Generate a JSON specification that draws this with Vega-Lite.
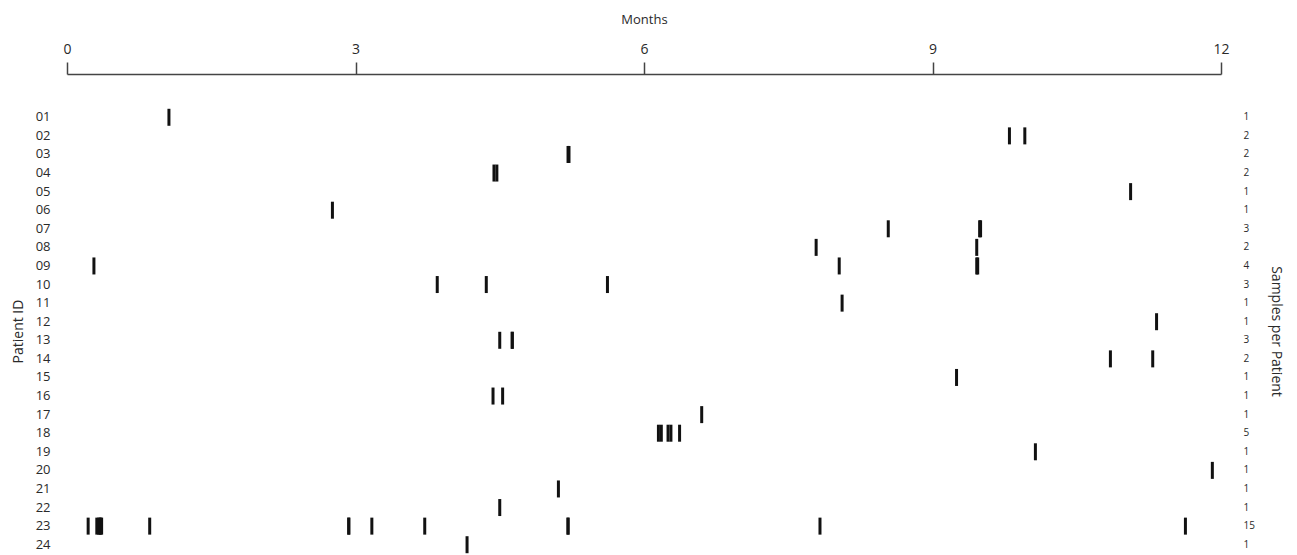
{
  "$schema": "https://vega.github.io/schema/vega-lite/v6.json",
  "autosize": {"type": "none"},
  "padding": {"left": 67, "top": 108, "right": 76, "bottom": 1},
  "width": 1154,
  "height": 446,
  "config": {
    "view": {"stroke": null},
    "font": "Open Sans",
    "axis": {"grid": false, "labelColor": "#2a2a2a", "titleColor": "#2a2a2a", "titleFontWeight": "normal", "domainColor": "#444", "tickColor": "#444"}
  },
  "datasets": {
    "samples": [
      {"pid": "01", "m": 1.06},
      {"pid": "02", "m": 9.80}, {"pid": "02", "m": 9.96},
      {"pid": "03", "m": 5.21}, {"pid": "03", "m": 5.22},
      {"pid": "04", "m": 4.44}, {"pid": "04", "m": 4.47},
      {"pid": "05", "m": 11.06},
      {"pid": "06", "m": 2.76},
      {"pid": "07", "m": 8.54}, {"pid": "07", "m": 9.49}, {"pid": "07", "m": 9.50},
      {"pid": "08", "m": 7.79}, {"pid": "08", "m": 9.46},
      {"pid": "09", "m": 0.28}, {"pid": "09", "m": 8.03}, {"pid": "09", "m": 9.46}, {"pid": "09", "m": 9.47},
      {"pid": "10", "m": 3.85}, {"pid": "10", "m": 4.36}, {"pid": "10", "m": 5.62},
      {"pid": "11", "m": 8.06},
      {"pid": "12", "m": 11.33},
      {"pid": "13", "m": 4.50}, {"pid": "13", "m": 4.63}, {"pid": "13", "m": 4.63},
      {"pid": "14", "m": 10.85}, {"pid": "14", "m": 11.29},
      {"pid": "15", "m": 9.25},
      {"pid": "16", "m": 4.43}, {"pid": "16", "m": 4.53},
      {"pid": "17", "m": 6.60},
      {"pid": "18", "m": 6.15}, {"pid": "18", "m": 6.18}, {"pid": "18", "m": 6.25}, {"pid": "18", "m": 6.28}, {"pid": "18", "m": 6.37},
      {"pid": "19", "m": 10.07},
      {"pid": "20", "m": 11.91},
      {"pid": "21", "m": 5.11},
      {"pid": "22", "m": 4.50},
      {"pid": "23", "m": 0.22}, {"pid": "23", "m": 0.31}, {"pid": "23", "m": 0.33}, {"pid": "23", "m": 0.34}, {"pid": "23", "m": 0.35}, {"pid": "23", "m": 0.36},
      {"pid": "23", "m": 0.86}, {"pid": "23", "m": 2.93}, {"pid": "23", "m": 2.93}, {"pid": "23", "m": 3.17}, {"pid": "23", "m": 3.72},
      {"pid": "23", "m": 5.21}, {"pid": "23", "m": 5.21}, {"pid": "23", "m": 7.83}, {"pid": "23", "m": 11.63},
      {"pid": "24", "m": 4.16}
    ],
    "patients": [
      {"key": "01|1"}, {"key": "02|2"}, {"key": "03|2"}, {"key": "04|2"}, {"key": "05|1"}, {"key": "06|1"},
      {"key": "07|3"}, {"key": "08|2"}, {"key": "09|4"}, {"key": "10|3"}, {"key": "11|1"}, {"key": "12|1"},
      {"key": "13|3"}, {"key": "14|2"}, {"key": "15|1"}, {"key": "16|1"}, {"key": "17|1"}, {"key": "18|5"},
      {"key": "19|1"}, {"key": "20|1"}, {"key": "21|1"}, {"key": "22|1"}, {"key": "23|15"}, {"key": "24|1"}
    ]
  },
  "layer": [
    {
      "data": {"name": "samples"},
      "mark": {"type": "tick", "color": "#111", "thickness": 3, "size": 17, "opacity": 1},
      "encoding": {
        "x": {
          "field": "m", "type": "quantitative",
          "scale": {"domain": [0, 12], "nice": false, "zero": false},
          "axis": {"orient": "top", "values": [0, 3, 6, 9, 12], "format": "d", "offset": 34, "title": "Months", "titleFontSize": 13, "titlePadding": 16, "labelFontSize": 14, "labelPadding": 6, "tickSize": 12, "domainWidth": 1.5, "tickWidth": 1.5, "labelFlush": false}
        },
        "y": {
          "field": "pid", "type": "nominal", "sort": "ascending",
          "scale": {"paddingInner": 0, "paddingOuter": 0},
          "axis": {"orient": "left", "title": "Patient ID", "titleFontSize": 14, "titlePadding": 10, "labelFontSize": 13, "labelPadding": 17, "domain": false, "ticks": false}
        }
      }
    },
    {
      "data": {"name": "patients"},
      "mark": {"type": "tick", "opacity": 0},
      "encoding": {
        "x": {"datum": 0},
        "y": {
          "field": "key", "type": "nominal", "sort": "ascending",
          "scale": {"paddingInner": 0, "paddingOuter": 0},
          "axis": {"orient": "right", "title": "Samples per Patient", "titleFontSize": 14, "titlePadding": 14, "labelFontSize": 10, "labelPadding": 22, "domain": false, "ticks": false, "labelExpr": "split(datum.value, '|')[1]"}
        }
      }
    }
  ],
  "resolve": {"scale": {"y": "independent"}, "axis": {"y": "independent"}}
}
